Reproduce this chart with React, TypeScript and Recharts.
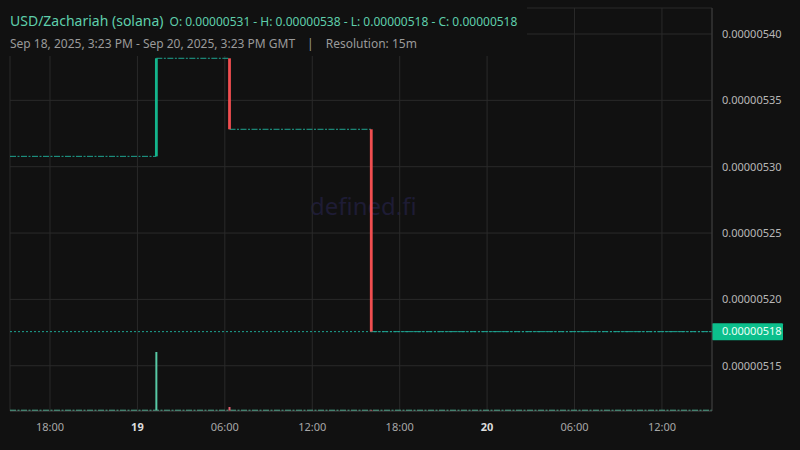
import React from 'react';
import {
  ComposedChart,
  Line,
  XAxis,
  YAxis,
  CartesianGrid,
  ReferenceLine,
} from 'recharts';

// time axis: hours since Sep 18, 2025 00:00 GMT (15m candles)
const rangeStart = 15.383; // Sep 18, 3:23 PM
const rangeEnd = 63.383; // Sep 20, 3:23 PM
const xDomain = [15.255, 63.435];
const xTicks = [18, 24, 30, 36, 42, 48, 54, 60];
const xTickLabels = ['18:00', '19', '06:00', '12:00', '18:00', '20', '06:00', '12:00'];
const dayTicks = [24, 48];

// the only candles that moved; everything else is flat
const candleTime = [25.3, 30.32, 40.05];
const candleOpen = [0.0000053078, 0.0000053817, 0.0000053282];
const candleClose = [0.0000053817, 0.0000053282, 0.0000051757];

const volumeTime = [25.3, 30.32, 40.05];
const volumeValue = [1180, 80, 22];
const baseVolume = 12;

const priceDomain = [0.0000051159, 0.0000054196];
const priceTicks = [0.00000515, 0.0000052, 0.00000525, 0.0000053, 0.00000535, 0.0000054];
const volumeDomain = [0, 8060];

const pair = 'USD/Zachariah (solana)';
const rangeLabel = 'Sep 18, 2025, 3:23 PM - Sep 20, 2025, 3:23 PM GMT';
const resolution = '15m';

const UP = '#14b58c';
const DOWN = '#f04e50';
const FLAT = '#1fa592';
const TEXT_TEAL = '#5fcfac';
const BG = '#111111';
const GRID = '#2a2a2a';

const fmt = (v: number) => v.toFixed(8);

// flat runs between the moving candles
const levels: { t0: number; t1: number; p: number }[] = [];
levels.push({ t0: xDomain[0], t1: candleTime[0], p: candleOpen[0] });
candleTime.forEach((t, i) => {
  const next = i < candleTime.length - 1 ? candleTime[i + 1] : xDomain[1];
  levels.push({ t0: t, t1: next, p: candleClose[i] });
});

const lastPrice = candleClose[candleClose.length - 1];
const high = Math.max(...candleOpen, ...candleClose);
const low = Math.min(...candleOpen, ...candleClose);

const XTick = (props: any) => {
  const { x, y, payload } = props;
  const idx = xTicks.indexOf(payload.value);
  const isDay = dayTicks.includes(payload.value);
  return (
    <text
      x={x}
      y={y + 18}
      textAnchor="middle"
      fontSize={11}
      fontWeight={isDay ? 700 : 400}
      fill={isDay ? '#dcdcdc' : '#a8a8a8'}
      fontFamily="Noto Sans"
    >
      {xTickLabels[idx]}
    </text>
  );
};

const YTick = (props: any) => {
  const { x, y, payload } = props;
  return (
    <text x={x} y={y} dy="0.35em" fontSize={11} fill="#b8b8b8" fontFamily="Noto Sans">
      {fmt(payload.value)}
    </text>
  );
};

const LastPriceLabel = (props: any) => {
  const { viewBox } = props;
  const x = viewBox.x + viewBox.width;
  const y = viewBox.y;
  return (
    <g>
      <rect x={x} y={y - 8.5} width={71} height={17} rx={1} fill="#0cbf8c" />
      <text x={x + 10} y={y} dy="0.35em" fontSize={11} fill="#eafff7" fontFamily="Noto Sans">
        {fmt(lastPrice)}
      </text>
    </g>
  );
};

export default function App() {
  return (
    <div
      style={{
        position: 'absolute',
        left: 0,
        top: 0,
        width: 800,
        height: 450,
        background: BG,
        fontFamily: 'Noto Sans',
        overflow: 'hidden',
      }}
    >
      <div
        style={{
          position: 'absolute',
          left: 310,
          top: 191,
          fontSize: 24,
          color: '#1e1c35',
          lineHeight: '30px',
        }}
      >
        defined.fi
      </div>
      <ComposedChart
        width={800}
        height={450}
        margin={{ top: 8, right: 0, bottom: 8, left: 10 }}
        style={{ position: 'absolute', left: 0, top: 0 }}
      >
        <CartesianGrid stroke={GRID} yAxisId="price" />
        <XAxis
          type="number"
          dataKey="t"
          domain={xDomain}
          allowDataOverflow
          ticks={xTicks}
          interval={0}
          tick={<XTick />}
          tickLine={false}
          tickSize={0}
          axisLine={{ stroke: '#3c3c3c' }}
          height={31}
        />
        <YAxis
          yAxisId="price"
          orientation="right"
          type="number"
          domain={priceDomain}
          allowDataOverflow
          ticks={priceTicks}
          interval={0}
          tick={<YTick />}
          tickLine={false}
          tickSize={0}
          tickMargin={10}
          axisLine={{ stroke: '#3c3c3c' }}
          width={88}
        />
        <YAxis yAxisId="vol" hide domain={volumeDomain} allowDataOverflow />

        <Line
          yAxisId="vol"
          data={[
            { t: xDomain[0], v: baseVolume },
            { t: xDomain[1], v: baseVolume },
          ]}
          dataKey="v"
          stroke="#4fc3a1"
          strokeWidth={1.5}
          strokeDasharray="6 1.5 2 1.5"
          dot={false}
          activeDot={false}
          isAnimationActive={false}
        />
        {volumeTime.map((t, i) => (
          <Line
            key={`vol-${i}`}
            yAxisId="vol"
            data={[
              { t, v: 0 },
              { t, v: volumeValue[i] },
            ]}
            dataKey="v"
            stroke={candleClose[i] >= candleOpen[i] ? '#58c9a5' : '#e0606e'}
            strokeWidth={2}
            dot={false}
            activeDot={false}
            isAnimationActive={false}
          />
        ))}

        {levels.map((l, i) => (
          <Line
            key={`lvl-${i}`}
            yAxisId="price"
            data={[
              { t: l.t0, p: l.p },
              { t: l.t1, p: l.p },
            ]}
            dataKey="p"
            stroke={FLAT}
            strokeWidth={1}
            strokeDasharray="6 1.5 2 1.5"
            dot={false}
            activeDot={false}
            isAnimationActive={false}
          />
        ))}

        <ReferenceLine
          yAxisId="price"
          y={lastPrice}
          stroke={FLAT}
          strokeDasharray="2 2"
          label={<LastPriceLabel />}
        />

        {candleTime.map((t, i) => (
          <Line
            key={`candle-${i}`}
            yAxisId="price"
            data={[
              { t, p: candleOpen[i] },
              { t, p: candleClose[i] },
            ]}
            dataKey="p"
            stroke={candleClose[i] >= candleOpen[i] ? UP : DOWN}
            strokeWidth={2.8}
            dot={false}
            activeDot={false}
            isAnimationActive={false}
          />
        ))}
      </ComposedChart>

      <div
        style={{
          position: 'absolute',
          left: 0,
          top: 0,
          padding: '9px 10px 1px 10px',
          background: BG,
        }}
      >
        <div style={{ lineHeight: '22px', whiteSpace: 'nowrap', color: TEXT_TEAL }}>
          <span style={{ fontSize: 14 }}>{pair}</span>
          <span style={{ fontSize: 12, marginLeft: 6 }}>
            O: {fmt(candleOpen[0])} - H: {fmt(high)} - L: {fmt(low)} - C: {fmt(lastPrice)}
          </span>
        </div>
        <div style={{ lineHeight: '22px', whiteSpace: 'nowrap', color: '#9a9a9a', fontSize: 12 }}>
          {rangeLabel}
          <span style={{ margin: '0 12px' }}>|</span>
          Resolution: {resolution}
        </div>
      </div>
    </div>
  );
}
